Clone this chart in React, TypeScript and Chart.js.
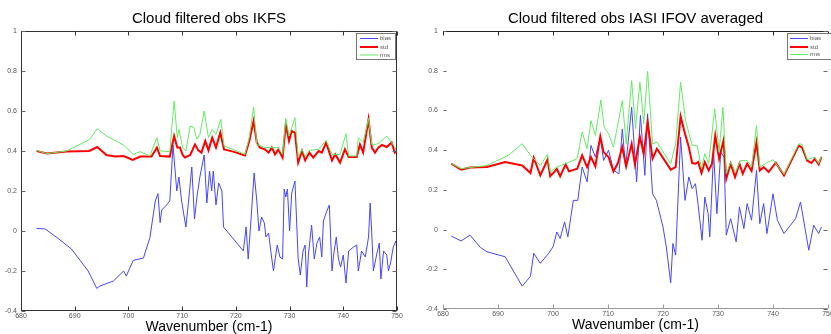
import React, { useEffect, useRef } from 'react';
import { Chart, registerables } from 'chart.js';

Chart.register(...registerables);

const FONT = "'Liberation Sans', Arial, Helvetica, sans-serif";

const seriesNames = ['bias', 'std', 'rms'];
const titles = ['Cloud filtered obs IKFS', 'Cloud filtered obs IASI IFOV averaged'];
const xLabel = 'Wavenumber (cm-1)';

// ---------- IKFS (left) ----------
const ikfsBiasWn = [682.9, 684.5, 686.9, 689.4, 692.5, 694.1, 694.7, 697.2, 699.1, 699.6, 700.9, 702.8, 704.0, 705.0, 705.5, 705.9, 706.2, 707.1, 707.7, 708.3,
  709.0, 709.4, 709.9, 710.7, 711.2, 711.8, 712.3, 712.8, 713.3, 714.1, 714.6, 715.1, 715.5, 715.8, 716.3, 716.8, 717.4, 717.7, 721.4, 721.9, 722.3, 722.8, 723.4, 723.9, 724.3, 724.8, 725.3, 725.6, 726.1, 726.5, 727.0, 727.7, 728.2, 728.7, 729.0, 729.3, 729.6, 730.0, 730.4, 731.0, 731.6, 732.0, 732.5, 732.9, 733.2, 733.5, 734.1, 734.6, 735.1, 735.6, 736.0, 736.3, 736.8, 737.4, 737.9, 738.2, 738.7, 739.1, 739.5, 740.0, 740.5, 741.0, 741.9, 742.5, 742.8, 743.4, 744.1, 744.7, 745.0, 745.3, 745.6, 746.2, 746.7, 747.0, 747.5, 748.1, 748.4, 748.8, 749.3, 749.8, 750.0];
const ikfsBias = [0.013, 0.01, -0.037, -0.09, -0.2, -0.287, -0.275, -0.25, -0.2, -0.225, -0.147, -0.135, -0.033, 0.15, 0.187, 0.042, 0.105, 0.13, 0.15, 0.43,
  0.2, 0.27, 0.15, 0.02, 0.15, 0.32, 0.06, 0.18, 0.27, 0.38, 0.14, 0.3, 0.2, 0.3, 0.13, 0.24, 0.2, 0.02, -0.1, 0.02, -0.14, 0.05, 0.29, 0.15, 0.0, 0.07, 0.04, -0.03, -0.01, -0.1, -0.2, -0.07, -0.13, -0.14, 0.21, 0.17, 0.21, 0.0, 0.19, 0.25, -0.14, -0.22, -0.1, -0.07, -0.28, -0.12, 0.03, -0.14, -0.06, -0.03, -0.13, 0.05, 0.09, 0.13, -0.2, -0.12, -0.03, -0.14, -0.18, -0.12, -0.26, -0.1, -0.08, -0.07, -0.2, -0.1, -0.13, -0.03, 0.14, -0.01, -0.2, -0.12, -0.06, -0.24, -0.1, -0.12, -0.2, -0.16, -0.08, -0.05, -0.1];

const ikfsStdWn = [682.9, 684.8, 688.5, 692.7, 694.2, 695.9, 697.5, 699.1, 700.8, 702.2, 704.3, 705.3, 705.9, 707.7, 708.5, 709.1, 709.6, 710.1, 710.5, 711.5, 712.4, 713.0, 713.6, 714.3, 714.9, 715.6, 716.3, 717.1, 717.8, 719.5, 721.7, 722.5, 723.3, 723.9, 724.5, 725.4, 726.1, 726.7, 727.3, 727.9, 728.7, 729.3, 729.9, 730.4, 731.0, 731.6, 732.3, 732.9, 733.7, 734.4, 735.4, 736.0, 736.8, 737.9, 738.5, 739.4, 740.3, 741.0, 742.5, 743.1, 743.7, 744.7, 745.3, 745.9, 746.5, 747.2, 748.1, 749.0, 749.6, 750.0];
const ikfsStd = [0.40, 0.388, 0.397, 0.40, 0.42, 0.38, 0.372, 0.375, 0.355, 0.372, 0.372, 0.417, 0.375, 0.372, 0.475, 0.417, 0.417, 0.38, 0.367, 0.38, 0.433, 0.403, 0.392, 0.45, 0.403, 0.467, 0.417, 0.492, 0.408, 0.397, 0.378, 0.45, 0.55, 0.442, 0.417, 0.408, 0.392, 0.417, 0.383, 0.408, 0.367, 0.533, 0.45, 0.50, 0.492, 0.342, 0.40, 0.353, 0.392, 0.367, 0.40, 0.392, 0.442, 0.353, 0.383, 0.342, 0.408, 0.37, 0.37, 0.433, 0.392, 0.558, 0.417, 0.392, 0.417, 0.43, 0.42, 0.442, 0.392, 0.40];

const ikfsRmsWn = [682.9, 684.8, 688.5, 692.8, 694.2, 695.9, 699.1, 700.9, 702.2, 704.0, 705.3, 705.9, 707.7, 708.5, 709.1, 709.4, 710.1, 710.7, 711.5, 712.2, 712.7, 713.3, 714.1, 714.9, 715.6, 716.3, 717.2, 717.8, 719.5, 721.7, 722.5, 723.3, 723.9, 725.4, 726.7, 727.9, 728.7, 729.3, 729.9, 731.0, 731.6, 732.3, 732.9, 733.7, 735.4, 736.8, 737.9, 739.4, 740.5, 741.0, 742.5, 742.8, 743.7, 744.7, 745.3, 746.1, 746.8, 748.1, 749.0, 750.0];
const ikfsRms = [0.403, 0.387, 0.40, 0.458, 0.512, 0.475, 0.43, 0.383, 0.397, 0.375, 0.467, 0.40, 0.397, 0.65, 0.467, 0.508, 0.417, 0.40, 0.525, 0.517, 0.458, 0.483, 0.60, 0.467, 0.508, 0.483, 0.558, 0.425, 0.408, 0.383, 0.467, 0.62, 0.433, 0.417, 0.417, 0.417, 0.383, 0.562, 0.475, 0.567, 0.367, 0.408, 0.375, 0.403, 0.408, 0.453, 0.383, 0.383, 0.487, 0.375, 0.375, 0.467, 0.442, 0.563, 0.433, 0.433, 0.442, 0.475, 0.442, 0.403];

// ---------- IASI (right) ----------
const iasiBiasWn = [681.5, 683.3, 684.9, 686.8, 688.0, 691.3, 694.4, 695.9, 696.5, 697.7, 699.2, 700.0, 700.7, 701.3, 702.1, 702.7, 703.7, 704.5, 705.3, 706.2, 706.9, 707.7, 708.6, 709.2, 710.1, 711.0, 712.0, 712.6, 713.2, 714.3, 715.2, 715.9, 716.7, 717.2, 718.1, 718.8, 720.0, 720.6, 721.4, 721.8, 722.3, 723.2, 724.0, 724.7, 725.3, 725.9, 726.4, 727.1, 727.6, 728.2, 728.5, 729.2, 729.8, 730.5, 731.1, 731.5, 732.3, 733.3, 733.9, 734.7, 735.3, 736.1, 737.0, 737.6, 738.3, 738.9, 740.0, 740.8, 742.0, 744.1, 745.0, 746.5, 747.4, 748.3, 748.8];
const iasiBias = [-0.033, -0.057, -0.028, -0.09, -0.112, -0.137, -0.285, -0.235, -0.12, -0.17, -0.12, -0.087, -0.012, -0.045, 0.039, -0.037, 0.147, 0.147, 0.315, 0.24, 0.424, 0.365, 0.466, 0.348, 0.40, 0.298, 0.281, 0.507, 0.315, 0.616, 0.24, 0.575, 0.273, 0.583, 0.18, 0.147, 0.013, -0.087, -0.268, -0.07, -0.129, 0.466, 0.147, 0.265, 0.206, 0.231, 0.122, -0.054, 0.164, 0.08, -0.037, 0.39, 0.08, 0.39, 0.365, -0.028, 0.055, -0.062, 0.114, 0.005, 0.131, 0.047, 0.298, 0.03, 0.131, -0.02, 0.18, 0.047, -0.02, 0.055, 0.139, -0.104, 0.022, -0.02, 0.013];

const iasiStdWn = [681.5, 683.3, 684.9, 688.0, 691.3, 694.4, 695.9, 696.5, 697.7, 699.0, 699.5, 700.7, 701.3, 702.3, 702.9, 704.4, 705.3, 706.2, 706.9, 707.7, 708.6, 709.2, 710.1, 711.0, 711.8, 712.6, 713.3, 714.3, 714.9, 715.8, 716.5, 717.2, 718.1, 718.9, 721.4, 722.3, 723.2, 724.0, 724.7, 725.3, 725.9, 726.4, 727.0, 727.6, 728.3, 728.9, 729.5, 730.2, 731.0, 731.5, 732.3, 733.1, 733.9, 734.5, 735.3, 736.1, 737.0, 737.6, 738.3, 739.2, 740.5, 742.0, 744.7, 745.3, 746.2, 747.0, 747.6, 748.3, 748.8];
const iasiStd = [0.332, 0.302, 0.312, 0.315, 0.34, 0.323, 0.285, 0.362, 0.273, 0.353, 0.268, 0.306, 0.268, 0.328, 0.293, 0.306, 0.374, 0.315, 0.365, 0.318, 0.469, 0.39, 0.365, 0.293, 0.335, 0.415, 0.318, 0.432, 0.328, 0.466, 0.382, 0.541, 0.357, 0.407, 0.302, 0.315, 0.57, 0.482, 0.415, 0.335, 0.332, 0.34, 0.285, 0.34, 0.298, 0.332, 0.474, 0.357, 0.449, 0.256, 0.332, 0.265, 0.332, 0.281, 0.332, 0.295, 0.44, 0.298, 0.315, 0.29, 0.337, 0.273, 0.424, 0.412, 0.348, 0.335, 0.357, 0.328, 0.365];

const iasiRmsWn = [681.5, 683.3, 688.0, 691.9, 694.4, 695.9, 697.7, 699.0, 699.5, 700.7, 702.3, 704.4, 705.3, 706.2, 706.9, 707.7, 708.7, 709.3, 710.1, 711.0, 712.6, 713.3, 714.3, 715.0, 715.8, 716.5, 717.2, 718.1, 718.9, 721.4, 722.3, 723.2, 724.1, 725.3, 726.2, 727.0, 727.6, 728.3, 729.4, 730.2, 730.9, 731.5, 732.3, 733.2, 734.1, 735.3, 736.1, 737.0, 737.6, 738.6, 740.0, 742.0, 744.7, 745.3, 746.2, 747.6, 748.3, 748.8];
const iasiRms = [0.332, 0.307, 0.323, 0.374, 0.432, 0.374, 0.323, 0.379, 0.29, 0.315, 0.332, 0.357, 0.491, 0.407, 0.549, 0.474, 0.653, 0.516, 0.482, 0.415, 0.65, 0.432, 0.75, 0.508, 0.742, 0.533, 0.797, 0.432, 0.44, 0.332, 0.432, 0.742, 0.549, 0.424, 0.424, 0.307, 0.382, 0.332, 0.608, 0.39, 0.616, 0.281, 0.34, 0.29, 0.348, 0.348, 0.315, 0.524, 0.315, 0.332, 0.352, 0.278, 0.432, 0.429, 0.352, 0.365, 0.332, 0.369];

const X_MIN = 680, X_MAX = 750, X_STEP = 10;
const Y_MIN = -0.4, Y_MAX = 1, Y_STEP = 0.2;

const COLORS = ['rgb(70,70,255)', 'rgb(255,0,0)', 'rgb(100,235,100)'];
const WIDTHS = [1, 2, 1];

function pts(xs: number[], ys: number[]) {
  const n = Math.min(xs.length, ys.length);
  const out: { x: number; y: number }[] = [];
  for (let i = 0; i < n; i++) out.push({ x: xs[i], y: ys[i] });
  return out;
}

function fmtTick(v: number) {
  const r = Math.round(v * 10) / 10;
  return String(r === 0 ? 0 : r);
}

type Frame = { top: boolean; bottom: boolean; left: boolean; right: boolean; topColor: string; bottomColor: string; sideColor: string; leftTick: number };
type Leg = { x0: number; x1: number; y0: number; y1: number; lx0: number; lx1: number; tx: number; rows: number[] };

function framePlugin(f: Frame) {
  return {
    id: 'frame',
    afterDraw(chart: any) {
      const { ctx, chartArea: a, scales } = chart;
      const xs = scales.x, ys = scales.y;
      ctx.save();
      ctx.lineWidth = 1;
      const line = (x1: number, y1: number, x2: number, y2: number, c: string) => {
        ctx.strokeStyle = c;
        ctx.beginPath();
        ctx.moveTo(x1, y1);
        ctx.lineTo(x2, y2);
        ctx.stroke();
      };
      const L = Math.round(a.left) + 0.5, R = Math.round(a.right) - 0.5;
      const T = Math.round(a.top) + 0.5, B = Math.round(a.bottom) - 0.5;
      if (f.top) line(L - 0.5, T, R + 0.5, T, f.topColor);
      if (f.bottom) line(L - 0.5, B, R + 0.5, B, f.bottomColor);
      if (f.left) line(L, T, L, B, f.sideColor);
      if (f.right) line(R, T, R, B, f.sideColor);
      for (const t of xs.ticks) {
        const px = Math.round(xs.getPixelForValue(t.value)) + 0.5;
        line(px, T, px, T + 4, f.topColor);
        line(px, B, px, B - 4, f.bottomColor);
      }
      for (const t of ys.ticks) {
        const py = Math.round(ys.getPixelForValue(t.value)) + 0.5;
        line(L, py, L + f.leftTick, py, '#666');
        line(R, py, R - 4, py, '#666');
      }
      ctx.restore();
    },
  };
}

function legendPlugin(g: Leg) {
  return {
    id: 'boxLegend',
    afterDraw(chart: any) {
      const { ctx } = chart;
      ctx.save();
      ctx.fillStyle = '#fff';
      ctx.fillRect(g.x0, g.y0, g.x1 - g.x0, g.y1 - g.y0);
      ctx.strokeStyle = '#777';
      ctx.lineWidth = 1;
      ctx.strokeRect(g.x0 + 0.5, g.y0 + 0.5, g.x1 - g.x0 - 1, g.y1 - g.y0 - 1);
      ctx.font = `6px ${FONT}`;
      ctx.textBaseline = 'middle';
      ctx.textAlign = 'left';
      seriesNames.forEach((name, i) => {
        const y = g.rows[i];
        ctx.strokeStyle = COLORS[i];
        ctx.lineWidth = WIDTHS[i];
        ctx.beginPath();
        ctx.moveTo(g.lx0, y);
        ctx.lineTo(g.lx1, y);
        ctx.stroke();
        ctx.fillStyle = '#555';
        ctx.fillText(name, g.tx, y);
      });
      ctx.restore();
    },
  };
}

type Cfg = {
  title: string;
  bias: { x: number; y: number }[];
  std: { x: number; y: number }[];
  rms: { x: number; y: number }[];
  yAxisW: number;
  xAxisH: number;
  rightPad: number;
  yLabelPad: number;
  xTitlePad: number;
  frame: Frame;
  legend: Leg;
};

function makeChart(canvas: HTMLCanvasElement, c: Cfg) {
  const ds = [c.bias, c.std, c.rms].map((data, i) => ({
    label: seriesNames[i],
    data,
    borderColor: COLORS[i],
    backgroundColor: COLORS[i],
    borderWidth: WIDTHS[i],
    pointRadius: 0,
    tension: 0,
    fill: false,
    order: 3 - i,
  }));
  const tickFont = { size: 7, family: FONT };
  return new Chart(canvas, {
    type: 'line',
    data: { datasets: ds as any },
    options: {
      animation: false,
      responsive: false,
      devicePixelRatio: 1,
      parsing: false as any,
      layout: { padding: { left: 0, right: c.rightPad, top: 0, bottom: 0 } },
      plugins: {
        legend: { display: false },
        tooltip: { enabled: false },
        title: {
          display: true,
          fullSize: false,
          text: c.title,
          color: '#000',
          font: { size: 15, family: FONT, weight: 'normal', lineHeight: 1 } as any,
          padding: { top: 11, bottom: 5 },
        },
      },
      scales: {
        x: {
          type: 'linear',
          min: X_MIN,
          max: X_MAX,
          ticks: { stepSize: X_STEP, font: tickFont, color: '#555', padding: 1, maxRotation: 0, autoSkip: false },
          grid: { display: false, drawTicks: false },
          border: { display: false },
          title: {
            display: true,
            text: xLabel,
            color: '#000',
            font: { size: 14, family: FONT, lineHeight: 1 } as any,
            padding: { top: 0, bottom: c.xTitlePad },
          },
          afterFit: (s: any) => {
            s.height = c.xAxisH;
            s.paddingLeft = 0;
            s.paddingRight = 0;
          },
        },
        y: {
          type: 'linear',
          min: Y_MIN,
          max: Y_MAX,
          ticks: { stepSize: Y_STEP, font: tickFont, color: '#555', padding: c.yLabelPad, callback: (v: any) => fmtTick(Number(v)) },
          grid: { display: false, drawTicks: false },
          border: { display: false },
          afterFit: (s: any) => {
            s.width = c.yAxisW;
            s.paddingTop = 0;
            s.paddingBottom = 0;
          },
        },
      },
    },
    plugins: [framePlugin(c.frame), legendPlugin(c.legend)] as any,
  });
}

export default function App() {
  const leftRef = useRef<HTMLCanvasElement>(null);
  const rightRef = useRef<HTMLCanvasElement>(null);

  useEffect(() => {
    const left = makeChart(leftRef.current!, {
      title: titles[0],
      bias: pts(ikfsBiasWn, ikfsBias),
      std: pts(ikfsStdWn, ikfsStd),
      rms: pts(ikfsRmsWn, ikfsRms),
      yAxisW: 21,
      xAxisH: 23,
      rightPad: 18,
      yLabelPad: 4,
      xTitlePad: 0,
      frame: { top: true, bottom: true, left: true, right: true, topColor: '#333', bottomColor: '#333', sideColor: '#333', leftTick: 4 },
      legend: { x0: 356, x1: 396, y0: 33, y1: 60, lx0: 360, lx1: 378, tx: 380, rows: [38.5, 47, 55] },
    });
    const right = makeChart(rightRef.current!, {
      title: titles[1],
      bias: pts(iasiBiasWn, iasiBias),
      std: pts(iasiStdWn, iasiStd),
      rms: pts(iasiRmsWn, iasiRms),
      yAxisW: 28,
      xAxisH: 25,
      rightPad: 3,
      yLabelPad: 5,
      xTitlePad: 2,
      frame: { top: true, bottom: true, left: false, right: false, topColor: '#222', bottomColor: '#999', sideColor: '#333', leftTick: 3 },
      legend: { x0: 372, x1: 418, y0: 33, y1: 60, lx0: 375, lx1: 393, tx: 395, rows: [38.5, 47, 54.5] },
    });
    return () => {
      left.destroy();
      right.destroy();
    };
  }, []);

  return (
    <div style={{ position: 'absolute', left: 0, top: 0, width: 831, height: 334, background: '#fff', overflow: 'hidden' }}>
      <canvas ref={leftRef} width={415} height={334} style={{ position: 'absolute', left: 0, top: 0, width: 415, height: 334 }} />
      <canvas ref={rightRef} width={416} height={334} style={{ position: 'absolute', left: 415, top: 0, width: 416, height: 334 }} />
    </div>
  );
}
